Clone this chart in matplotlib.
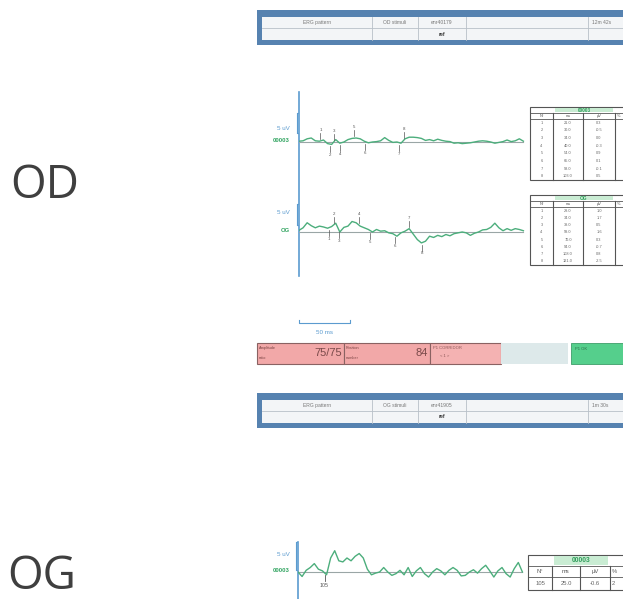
import numpy as np
import matplotlib
matplotlib.use("Agg")
import matplotlib.pyplot as plt
from matplotlib.patches import Rectangle
from matplotlib.transforms import blended_transform_factory

# ---------------- data ----------------
t_ms = list(range(0, 221, 4))  # sample times (ms)

od_00003 = [0.2, 0.3, 0.8, 1.0, 0.3, 0.2, 0.5, -0.4, -0.6, 0.6,
            -0.3, 0.0, 0.6, 0.9, 1.0, 0.8, 0.2, -0.2, 0.0, 0.1,
            0.3, 1.1, 0.4, -0.1, 0.0, -0.3, 0.8, 1.2, 1.2, 1.1,
            0.9, 0.4, 0.6, 0.3, 0.7, 0.4, 0.2, 0.1, -0.3, -0.2,
            -0.4, -0.3, -0.2, 0.0, 0.2, 0.3, 0.2, 0.0, -0.3, -0.1,
            0.1, 0.5, 0.1, 0.3, 0.8, 0.2]
od_og = [0.4, 1.0, 2.2, 1.5, 1.0, 1.4, 1.2, 0.9, 1.3, 2.1,
         0.0, 1.1, 1.4, 2.5, 2.2, 1.4, 1.0, 0.6, 0.0, 0.6,
         0.2, 0.3, -0.2, -0.4, -1.0, -0.2, 0.2, 0.8, -0.5, -1.8,
         -2.6, -2.2, -1.0, -1.3, -0.8, -1.1, -0.6, -0.9, -0.4, -0.2,
         0.0, -0.2, -0.8, -0.3, 0.0, 0.5, 0.6, 1.1, 2.1, 1.0,
         0.3, 0.8, 0.4, 0.8, 0.6, 0.3]
og_00003 = [0.0, -0.8, 0.3, 0.8, 1.5, 0.5, 0.2, -0.5, 2.5, 3.8,
            2.0, 1.8, 2.5, 2.0, 2.8, 3.3, 2.5, 0.5, -0.5, -0.2,
            0.0, 0.8, 0.0, -0.6, -0.3, 0.3, -0.5, 0.8, -0.8, 0.2,
            0.8, -0.3, -0.9, 0.0, 0.6, 0.2, -0.5, 0.3, 0.8, 0.3,
            -0.7, -0.6, 0.0, 0.4, -0.2, 0.6, 1.2, 0.2, -0.9, 0.2,
            0.8, -0.3, -0.9, 0.6, 1.7, 0.0]

od1_marker_t = [21, 30, 34, 40, 54, 65, 98, 103]
od1_marker_up = [True, False, True, False, True, False, False, True]
od2_marker_t = [29, 34, 39, 59, 70, 94, 108, 121]
od2_marker_up = [False, True, False, True, False, False, True, False]
og_marker_t = [26]
og_marker_lbl = ["105"]

header_od = ["ERG pattern", "OD stimuli", "enr40179", "12m 42s", "ref"]
header_og = ["ERG pattern", "OG stimuli", "enr41905", "1m 30s", "ref"]
status_texts = ["75/75", "84"]
table_cols = ["N°", "ms", "µV", "%"]
og_table_row = ["105", "25.0", "-0.6", "2"]

# ---------------- figure ----------------
W, H = 623, 599
fig = plt.figure(figsize=(W / 100, H / 100), dpi=100)
fig.patch.set_facecolor("white")
cv = fig.add_axes([0, 0, 1, 1])
cv.set_xlim(0, W)
cv.set_ylim(H, 0)
cv.axis("off")

SMALL = ["Liberation Sans", "DejaVu Sans"]
GREEN = "#4cae7c"
BLUE = "#5b9bcf"
GRAY = "#9aa6a6"

cv.text(45, 186, "OD", fontsize=33, family=["Open Sans", "DejaVu Sans"],
        color="#3f3f3f", ha="center", va="center")
cv.text(42, 577, "OG", fontsize=33, family=["Open Sans", "DejaVu Sans"],
        color="#3f3f3f", ha="center", va="center")


def header(y0, texts):
    cv.add_patch(Rectangle((257, y0), 380, 35, facecolor="#5682b0", edgecolor="none"))
    cv.add_patch(Rectangle((262, y0 + 7), 375, 23, facecolor="#f3f5f7", edgecolor="none"))
    cv.plot([262, 623], [y0 + 18, y0 + 18], color="#b8c0c8", lw=0.6)
    for xd in [372, 418, 466, 588]:
        cv.plot([xd, xd], [y0 + 7, y0 + 30], color="#b8c0c8", lw=0.6)
    cy = y0 + 12.5
    cv.text(317, cy, texts[0], fontsize=3.6, family=SMALL, color="#777", ha="center", va="center")
    cv.text(395, cy, texts[1], fontsize=3.6, family=SMALL, color="#777", ha="center", va="center")
    cv.text(442, cy, texts[2], fontsize=3.6, family=SMALL, color="#777", ha="center", va="center")
    cv.text(592, cy, texts[3], fontsize=3.6, family=SMALL, color="#777", ha="left", va="center")
    cv.text(442, y0 + 24, texts[4], fontsize=3.6, family=SMALL, color="#333", ha="center",
            va="center", weight="bold")


header(10, header_od)
header(393, header_og)


def trace_axes(x0, ybase, px_per_uv, half_px=32, tmax=222):
    ax = fig.add_axes([x0 / W, 1 - (ybase + half_px) / H, tmax * 1.02 / W, 2 * half_px / H])
    ax.set_xlim(0, tmax)
    ax.set_ylim(-half_px / px_per_uv, half_px / px_per_uv)
    ax.axis("off")
    ax.patch.set_alpha(0)
    return ax


def draw_trace(ax, y, scale_lo, scale_hi, name, name_y, uv_y):
    ax.plot([0, 220], [0, 0], color=GRAY, lw=0.8)
    ax.plot(t_ms, y, color=GREEN, lw=1.0)
    ax.plot([-2, -2], [scale_lo, scale_hi], color=BLUE, lw=0.8, clip_on=False)
    ax.plot([-2, -0.8], [scale_lo, scale_lo], color=BLUE, lw=0.6, clip_on=False)
    ax.plot([-2, -0.8], [scale_hi, scale_hi], color=BLUE, lw=0.6, clip_on=False)
    cv.text(290, uv_y, "5 uV", fontsize=4.5, family=SMALL, color=BLUE, ha="right", va="center")
    cv.text(290, name_y, name, fontsize=4.2, family=SMALL, color="#2fa35f", ha="right",
            va="center", weight="bold")


def draw_markers(ax, y, mts, ups, px_per_uv):
    for i, (mt, up) in enumerate(zip(mts, ups)):
        v = float(np.interp(mt, t_ms, y))
        s = 1 if up else -1
        a = v + s * 2.0 / px_per_uv
        b = v + s * 8.0 / px_per_uv
        ax.plot([mt, mt], [a, b], color="#555", lw=0.5)
        ax.text(mt, v + s * 11.0 / px_per_uv, str(i + 1), fontsize=3.2, family=SMALL,
                color="#555", ha="center", va="center")


# OD traces
ax1 = trace_axes(299, 142, 4.0)
draw_trace(ax1, od_00003, 2.25, 7.25, "00003", 141, 129)
draw_markers(ax1, od_00003, od1_marker_t, od1_marker_up, 4.0)

ax2 = trace_axes(299, 232, 4.2)
draw_trace(ax2, od_og, 1.7, 6.7, "OG", 231, 213)
draw_markers(ax2, od_og, od2_marker_t, od2_marker_up, 4.2)

# long vertical axis for OD traces
cv.plot([299, 299], [92, 276], color=BLUE, lw=1.2)

# 50 ms scale bar
tr = blended_transform_factory(ax2.transData, cv.transData)
cv.plot([0, 0, 50, 50], [320, 323, 323, 320], color=BLUE, lw=0.8, transform=tr)
cv.text(25, 332, "50 ms", fontsize=4.5, family=SMALL, color=BLUE, ha="center", va="center",
        transform=tr)

# OG trace
ax3 = trace_axes(298, 572, 5.6, half_px=34)
draw_trace(ax3, og_00003, 0.4, 5.4, "00003", 570, 555)
cv.plot([298, 298], [542, 599], color=BLUE, lw=1.2)
for mt, lbl in zip(og_marker_t, og_marker_lbl):
    v = float(np.interp(mt, t_ms, og_00003))
    ax3.plot([mt, mt], [v - 0.35, v - 1.5], color="#555", lw=0.6)
    ax3.text(mt, v - 2.3, lbl, fontsize=3.8, family=SMALL, color="#555", ha="center", va="center")


# small result tables
def cell_text(j, x_edges, yy, s, fs, color):
    if j == len(x_edges) - 2:  # last column is cut by the picture edge
        cv.text(x_edges[j] + 1.5, yy, s, fontsize=fs, family=SMALL, color=color,
                ha="left", va="center")
    else:
        cv.text((x_edges[j] + x_edges[j + 1]) / 2, yy, s, fontsize=fs, family=SMALL,
                color=color, ha="center", va="center")


def result_table(x_edges, y0, y1, title, rows, title_h=6, colh=6, fs=2.8):
    x0 = x_edges[0]
    cv.add_patch(Rectangle((x0, y0), 120, y1 - y0, facecolor="white", edgecolor="#555", lw=0.8))
    cv.add_patch(Rectangle((x_edges[1] + 2, y0 + 0.8), x_edges[3] - x_edges[1] - 4, title_h - 1.5,
                           facecolor="#c9ecd3", edgecolor="none"))
    cv.text((x_edges[1] + x_edges[3]) / 2, y0 + title_h / 2, title, fontsize=fs + 0.6,
            family=SMALL, color="#2f9d5a", ha="center", va="center", weight="bold")
    cv.plot([x0, 640], [y0 + title_h, y0 + title_h], color="#555", lw=0.6)
    cv.plot([x0, 640], [y0 + title_h + colh, y0 + title_h + colh], color="#555", lw=0.6)
    for xd in x_edges[1:-1]:
        cv.plot([xd, xd], [y0 + title_h, y1], color="#555", lw=0.8)
    for j, c in enumerate(table_cols):
        cell_text(j, x_edges, y0 + title_h + colh / 2, c, fs, "#555")
    rh = (y1 - (y0 + title_h + colh)) / len(rows)
    for i, r in enumerate(rows):
        yy = y0 + title_h + colh + rh * (i + 0.5)
        for j, c in enumerate(r):
            if c:
                cell_text(j, x_edges, yy, c, fs, "#666")


def rows_for(y, mts):
    out = []
    for i, mt in enumerate(mts):
        v = float(np.interp(mt, t_ms, y))
        out.append([str(i + 1), f"{mt:.1f}", f"{v:.1f}", ""])
    return out


edges = [530, 553, 583, 615, 640]
result_table(edges, 107, 180, "00003", rows_for(od_00003, od1_marker_t))
result_table(edges, 195, 265, "OG", rows_for(od_og, od2_marker_t))
result_table([528, 552, 580, 610, 640], 555, 590, "00003", [og_table_row],
             title_h=11, colh=11, fs=4.2)

# status bar
seg = [(257, 344, "#f2a8a8"), (344, 430, "#f2a8a8"), (430, 501, "#f4b2b2")]
for xa, xb, c in seg:
    cv.add_patch(Rectangle((xa, 343), xb - xa, 21, facecolor=c, edgecolor="#8a6262", lw=0.8))
cv.add_patch(Rectangle((501, 343), 67, 21, facecolor="#dde9ea", edgecolor="none"))
cv.add_patch(Rectangle((571, 343), 60, 21, facecolor="#55cf8c", edgecolor="#3e9e6a", lw=0.6))
cv.text(259, 348, "Amplitude", fontsize=2.8, family=SMALL, color="#7a4444", va="center")
cv.text(259, 358, "ratio", fontsize=2.8, family=SMALL, color="#7a4444", va="center")
cv.text(342, 353, status_texts[0], fontsize=8, family=SMALL, color="#7a4a4a", ha="right", va="center")
cv.text(346, 348, "Position", fontsize=2.8, family=SMALL, color="#7a4444", va="center")
cv.text(346, 358, "number", fontsize=2.8, family=SMALL, color="#7a4444", va="center")
cv.text(428, 353, status_texts[1], fontsize=8, family=SMALL, color="#7a4a4a", ha="right", va="center")
cv.text(433, 348, "P1 CORRIDOR", fontsize=3.0, family=SMALL, color="#8a5555", va="center")
cv.text(440, 356, "< 1 >", fontsize=3.0, family=SMALL, color="#8a5555", va="center")
cv.text(575, 349, "P1 OK", fontsize=3.0, family=SMALL, color="#2d6e4a", va="center")

fig.savefig("out.png", dpi=100, facecolor="white")
